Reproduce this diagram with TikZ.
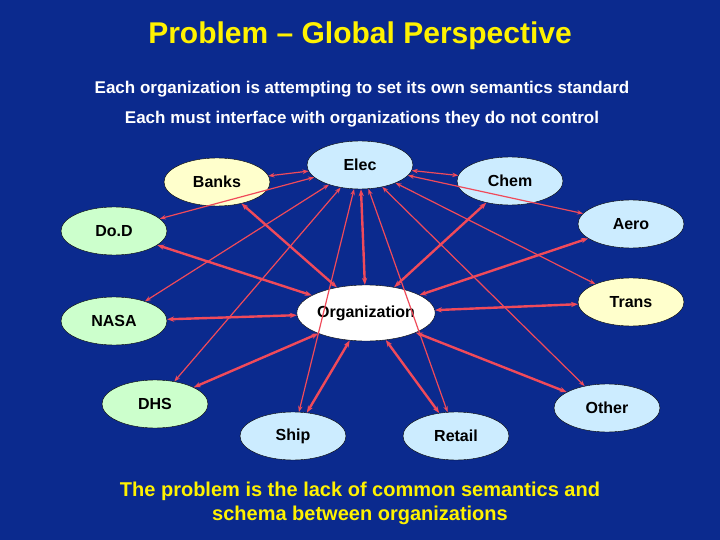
\documentclass[tikz,border=0pt]{standalone}
\usepackage{fontspec}
\setmainfont{Liberation Sans}
\usetikzlibrary{shapes.geometric,arrows.meta}
\definecolor{bg}{HTML}{0B2A8E}
\definecolor{ylw}{HTML}{FFFFCC}
\definecolor{grn}{HTML}{CCFFCC}
\definecolor{blu}{HTML}{CCECFF}
\definecolor{lnk}{HTML}{F04A5A}
\begin{document}
\begin{tikzpicture}[x=1pt,y=-1pt,
  org/.style={ellipse,draw=black,line width=0.4pt,minimum width=106pt,minimum height=48pt,inner sep=0pt,font=\fontsize{16}{18}\selectfont\bfseries},
  thin/.style={draw=lnk,line width=1.2pt,{Stealth[length=6pt]}-{Stealth[length=6pt]}},
  thick/.style={draw=lnk,line width=2.4pt,{Stealth[length=7pt]}-{Stealth[length=7pt]}},
  hdr/.style={font=\fontsize{17}{20}\selectfont\bfseries,text=white}]
\fill[bg] (0,0) rectangle (720,540);
\useasboundingbox (0,0) rectangle (720,540);
\node[font=\fontsize{30}{34}\selectfont\bfseries,text=yellow] (title) at (360,36) {Problem – Global Perspective};
\node[hdr] (s1) at (362,89) {Each organization is attempting to set its own semantics standard};
\node[hdr] (s2) at (362,119) {Each must interface with organizations they do not control};
\node[org,fill=ylw] (banks) at (217,182) {Banks};
\node[org,fill=blu] (elec) at (360,165) {Elec};
\node[org,fill=blu] (chem) at (510,181) {Chem};
\node[org,fill=blu] (aero) at (631,224) {Aero};
\node[org,fill=grn] (dod) at (114,231) {Do.D};
\node[org,fill=ylw] (trans) at (631,302) {Trans};
\node[org,fill=white,minimum width=130pt,minimum height=56pt] (orgn) at (366,313) {Organization};
\node[org,fill=grn] (nasa) at (114,321) {NASA};
\node[org,fill=grn] (dhs) at (155,404) {DHS};
\node[org,fill=blu] (other) at (607,408) {Other};
\node[org,fill=blu] (ship) at (293,436) {Ship};
\node[org,fill=blu] (retail) at (456,436) {Retail};
\foreach \t in {banks,chem,dod,nasa,dhs,ship,retail,other,trans,aero}
  \draw[thin] (elec) -- (\t);
\draw[thick] (elec) -- (orgn);
\foreach \t in {banks,chem,dod,nasa,dhs,ship,retail,other,trans,aero}
  \draw[thick] (orgn) -- (\t);
\node[font=\fontsize{20}{24}\selectfont\bfseries,text=yellow,align=center] (foot) at (360,503) {The problem is the lack of common semantics and\\schema between organizations};
\end{tikzpicture}
\end{document}
